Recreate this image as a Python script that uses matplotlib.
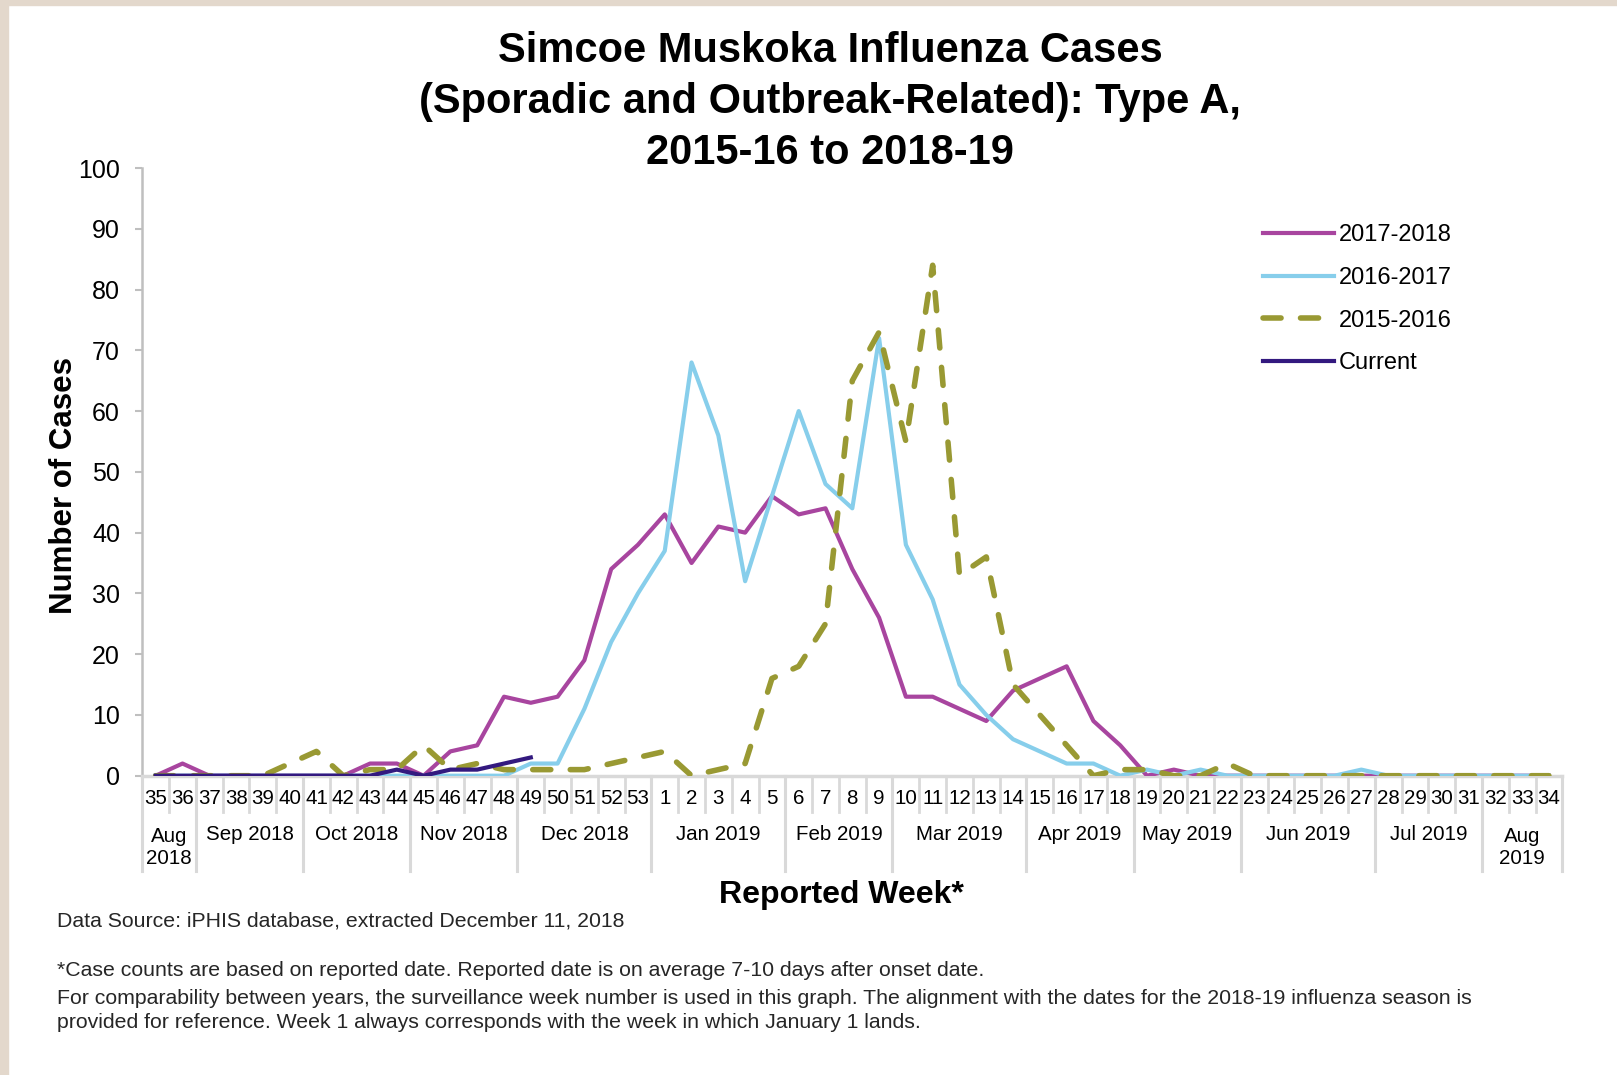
import matplotlib
matplotlib.use("Agg")
import matplotlib.pyplot as plt
from matplotlib.patches import Rectangle
import numpy as np

plt.rcParams["font.family"] = ["Liberation Sans", "DejaVu Sans"]
plt.rcParams["lines.scale_dashes"] = False

# surveillance weeks 35..53 then 1..34
weeks = list(range(35, 54)) + list(range(1, 35))
month_labels = ["Aug\n2018", "Sep 2018", "Oct 2018", "Nov 2018", "Dec 2018",
                "Jan 2019", "Feb 2019", "Mar 2019", "Apr 2019", "May 2019",
                "Jun 2019", "Jul 2019", "Aug\n2019"]
month_sizes = [2, 4, 4, 4, 5, 5, 4, 5, 4, 4, 5, 4, 3]

s2017_18 = [0, 2, 0, 0, 0, 0, 0, 0, 2, 2, 0, 4, 5, 13, 12, 13, 19, 34, 38,
            43, 35, 41, 40, 46, 43, 44, 34, 26, 13, 13, 11, 9, 14, 16, 18, 9, 5,
            0, 1, 0, 0, 0, 0, 0, 0, 0, 0, 0, 0, 0, 0, 0, 0]
s2016_17 = [0, 0, 0, 0, 0, 0, 0, 0, 0, 0, 0, 0, 0, 0, 2, 2, 11, 22, 30,
            37, 68, 56, 32, 46, 60, 48, 44, 72, 38, 29, 15, 10, 6, 4, 2, 2, 0,
            1, 0, 1, 0, 0, 0, 0, 0, 1, 0, 0, 0, 0, 0, 0, 0]
s2015_16 = [0, 0, 0, 0, 0, 2, 4, 0, 1, 1, 5, 1, 2, 1, 1, 1, 1, 2, 3,
            4, 0, 1, 2, 16, 18, 25, 65, 73, 55, 84, 33, 36, 15, 10, 5, 0, 1,
            1, 0, 0, 2, 0, 0, 0, 0, 0, 0, 0, 0, 0, 0, 0, 0]
current = [0, 0, 0, 0, 0, 0, 0, 0, 0, 1, 0, 1, 1, 2, 3]

W, H = 1617, 1075
fig = plt.figure(figsize=(W / 100, H / 100), dpi=100)
fig.patch.set_facecolor("white")

# beige frame strips (left and top)
fig.patches.append(Rectangle((0, 0), 8 / W, 1, transform=fig.transFigure,
                             color="#e3d8cc", zorder=0))
fig.patches.append(Rectangle((0, 1 - 5 / H), 1, 5 / H, transform=fig.transFigure,
                             color="#e3d8cc", zorder=0))

ax_l, ax_r, ax_b, ax_t = 142.3, 1562.3, 775.7, 168.0
ax = fig.add_axes([ax_l / W, 1 - ax_b / H, (ax_r - ax_l) / W, (ax_b - ax_t) / H])

x = np.arange(len(weeks))
ax.plot(x, s2017_18, color="#a8459f", lw=3.0, label="2017-2018", zorder=3)
ax.plot(x, s2016_17, color="#87ceeb", lw=3.0, label="2016-2017", zorder=4)
ax.plot(x, s2015_16, color="#999933", lw=4.0, dashes=(13, 14),
        dash_capstyle="round", label="2015-2016", zorder=5)
ax.plot(x[:len(current)], current, color="#33197f", lw=3.0, label="Current", zorder=6)

ax.set_xlim(-0.5, len(weeks) - 0.5)
ax.set_ylim(0, 100)
ax.set_yticks(range(0, 101, 10))
ax.tick_params(axis="y", labelsize=18, length=5, width=1.5, color="#bfbfbf", pad=11)
ax.set_xticks([])
for side in ["top", "right"]:
    ax.spines[side].set_visible(False)
ax.spines["left"].set_color("#bfbfbf")
ax.spines["left"].set_linewidth(1.8)
ax.spines["bottom"].set_color("#d9d9d9")
ax.spines["bottom"].set_linewidth(2.5)

# two-level category axis
trans = ax.get_xaxis_transform()
axh = ax_b - ax_t
for i, w in enumerate(weeks):
    ax.text(i, -(798 - ax_b) / axh, str(w), transform=trans, ha="center",
            va="center", fontsize=14.8)
for b in np.arange(-0.5, len(weeks), 1.0):
    ax.plot([b, b], [0, -(811.6 - ax_b) / axh], transform=trans, clip_on=False,
            color="#d9d9d9", lw=2)
starts = np.concatenate([[0], np.cumsum(month_sizes)])
for k, lab in enumerate(month_labels):
    s, e = starts[k], starts[k + 1]
    yc = 835 if "\n" not in lab else 847.5
    ax.text((s + e - 1) / 2, -(yc - ax_b) / axh, lab, transform=trans,
            ha="center", va="center", fontsize=14.8, linespacing=1.15)
for b in starts:
    ax.plot([b - 0.5, b - 0.5], [0, -(871 - ax_b) / axh], transform=trans,
            clip_on=False, color="#d9d9d9", lw=2.2)

ax.legend(loc="upper left", bbox_to_anchor=((1263 - ax_l) / (ax_r - ax_l), (ax_b - 224) / axh),
          frameon=False, fontsize=17, handlelength=3.0, handletextpad=0.2,
          labelspacing=0.88, borderpad=0, borderaxespad=0)

fig.text(830 / W, 1 - 102 / H,
         "Simcoe Muskoka Influenza Cases\n(Sporadic and Outbreak-Related): Type A,\n2015-16 to 2018-19",
         ha="center", va="center", fontsize=30, fontweight="bold", linespacing=1.34)
fig.text(64 / W, 1 - 485 / H, "Number of Cases", rotation=90, ha="center",
         va="center", fontsize=22.5, fontweight="bold")
fig.text(841.5 / W, 1 - 895 / H, "Reported Week*", ha="center", va="center",
         fontsize=23, fontweight="bold")

notes = [
    (921, "Data Source: iPHIS database, extracted December 11, 2018"),
    (970, "*Case counts are based on reported date. Reported date is on average 7-10 days after onset date."),
    (998, "For comparability between years, the surveillance week number is used in this graph. "
          "The alignment with the dates for the 2018-19 influenza season is"),
    (1023, "provided for reference. Week 1 always corresponds with the week in which January 1 lands."),
]
for yy, txt in notes:
    fig.text(56.7 / W, 1 - yy / H, txt, ha="left", va="center", fontsize=15.3,
             color="#262626")

fig.savefig("out.png", dpi=100)
